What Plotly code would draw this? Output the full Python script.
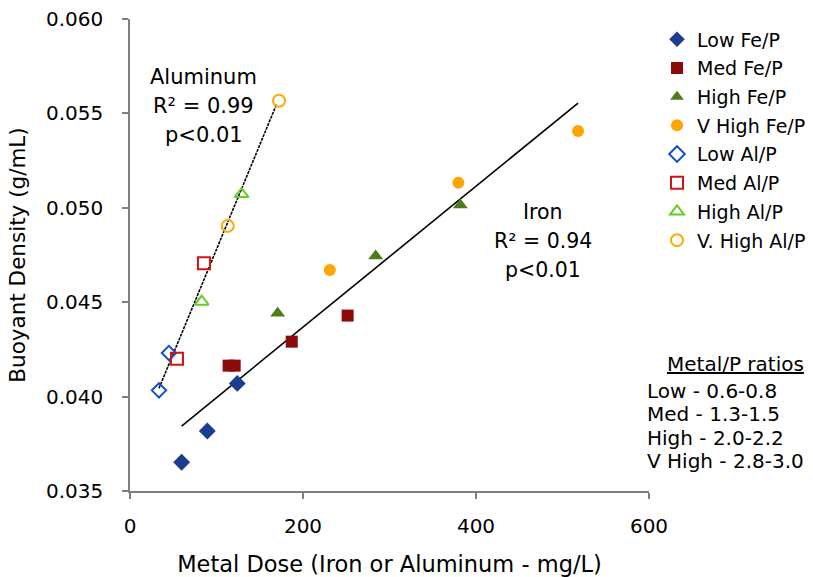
import plotly.graph_objects as go

# ---- data ----
low_fe_x = [59.7, 89.4, 124.0]
low_fe_y = [0.03652, 0.03818, 0.04070]
med_fe_x = [114.0, 121.0, 187.0, 251.6]
med_fe_y = [0.04164, 0.04164, 0.04291, 0.04429]
high_fe_x = [170.7, 284.0, 381.9]
high_fe_y = [0.04441, 0.04745, 0.05015]
vhigh_fe_x = [231.0, 379.6, 518.0]
vhigh_fe_y = [0.04671, 0.05133, 0.05407]

low_al_x = [33.5, 45.0]
low_al_y = [0.04033, 0.04231]
med_al_x = [54.3, 85.5]
med_al_y = [0.04201, 0.04706]
high_al_x = [82.9, 129.0]
high_al_y = [0.04503, 0.05073]
vhigh_al_x = [113.0, 172.3]
vhigh_al_y = [0.04904, 0.05567]

iron_fit_x = [59.7, 518.0]
iron_fit_y = [0.03844, 0.05555]
al_fit_x = [33.5, 169.6]
al_fit_y = [0.04044, 0.05550]

x_ticks = [0, 200, 400, 600]
y_ticks = [0.035, 0.040, 0.045, 0.050, 0.055, 0.060]

FONT = "DejaVu Sans"

series = [
    ("Low Fe/P", low_fe_x, low_fe_y, "diamond", "#1c3c92", 13),
    ("Med Fe/P", med_fe_x, med_fe_y, "square", "#8c0a0a", 12),
    ("High Fe/P", high_fe_x, high_fe_y, "triangle-up", "#4e7d17", 13),
    ("V High Fe/P", vhigh_fe_x, vhigh_fe_y, "circle", "#ffa500", 12),
    ("Low Al/P", low_al_x, low_al_y, "diamond-open", "#1450c8", 11),
    ("Med Al/P", med_al_x, med_al_y, "square-open", "#d01414", 12),
    ("High Al/P", high_al_x, high_al_y, "triangle-up-open", "#66cc22", 12),
    ("V. High Al/P", vhigh_al_x, vhigh_al_y, "circle-open", "#ffaa00", 12),
]

fig = go.Figure()

fig.add_trace(go.Scatter(x=iron_fit_x, y=iron_fit_y, mode="lines",
                         line=dict(color="black", width=1.6), showlegend=False, hoverinfo="skip"))
fig.add_trace(go.Scatter(x=al_fit_x, y=al_fit_y, mode="lines",
                         line=dict(color="black", width=1.6, dash="3px,1px"), showlegend=False, hoverinfo="skip"))

for i, (name, xs, ys, sym, col, sz) in enumerate(series):
    opened = sym.endswith("open")
    fig.add_trace(go.Scatter(
        x=xs, y=ys, mode="markers", name=name, legendgroup=f"g{i}",
        marker=dict(symbol=sym, size=sz, color=col,
                    line=dict(width=2 if opened else 0, color=col)),
    ))

annotations = []
for txt, yv in [("Aluminum", 0.05694), ("R² = 0.99", 0.05539), ("p<0.01", 0.05386)]:
    annotations.append(dict(x=85.5, y=yv, xref="x", yref="y", text=txt, showarrow=False,
                            font=dict(family=FONT, size=21, color="black"),
                            xanchor="center", yanchor="middle"))
for txt, yv in [("Iron", 0.04979), ("R² = 0.94", 0.04826), ("p<0.01", 0.04671)]:
    annotations.append(dict(x=477.5, y=yv, xref="x", yref="y", text=txt, showarrow=False,
                            font=dict(family=FONT, size=20.5, color="black"),
                            xanchor="center", yanchor="middle"))

ratio_font = dict(family=FONT, size=20, color="black")
annotations.append(dict(x=(735 - 130) / 519, y=(491 - 364) / 472, xref="paper", yref="paper",
                        text="<u>Metal/P ratios</u>", showarrow=False, font=ratio_font,
                        xanchor="center", yanchor="middle"))
for txt, py in [("Low - 0.6-0.8", 391), ("Med - 1.3-1.5", 414),
                ("High - 2.0-2.2", 438), ("V High - 2.8-3.0", 461)]:
    annotations.append(dict(x=(645 - 130) / 519, y=(491 - py) / 472, xref="paper", yref="paper",
                            text=txt, showarrow=False, font=ratio_font,
                            xanchor="left", yanchor="middle"))

fig.update_layout(
    width=813, height=577,
    margin=dict(l=130, r=164, t=19, b=86, autoexpand=False),
    paper_bgcolor="white", plot_bgcolor="white",
    font=dict(family=FONT, color="black"),
    showlegend=True,
    legend=dict(x=(657 - 130) / 519, y=0.997, xanchor="left", yanchor="top",
                font=dict(family=FONT, size=19, color="black"),
                tracegroupgap=1, bgcolor="rgba(0,0,0,0)", borderwidth=0,
                itemsizing="constant"),
    annotations=annotations,
    xaxis=dict(range=[0, 600], tickvals=x_ticks, ticks="outside", ticklen=6,
               tickcolor="#7f7f7f", tickwidth=1.5, showline=True, linecolor="#7f7f7f",
               linewidth=1.5, showgrid=False, zeroline=False, automargin=False,
               tickfont=dict(family=FONT, size=20, color="black"), ticklabelstandoff=10,
               title=dict(text="Metal Dose (Iron or Aluminum - mg/L)",
                          font=dict(family=FONT, size=22.5, color="black"), standoff=24)),
    yaxis=dict(range=[0.035, 0.060], tickvals=y_ticks, tickformat=".3f", ticks="outside",
               ticklen=6, tickcolor="#7f7f7f", tickwidth=1.5, showline=True,
               linecolor="#7f7f7f", linewidth=1.5, showgrid=False, zeroline=False,
               automargin=False,
               tickfont=dict(family=FONT, size=20, color="black"), ticklabelstandoff=15,
               title=dict(text="Buoyant Density (g/mL)",
                          font=dict(family=FONT, size=21.5, color="black"), standoff=14)),
)

fig.write_html("out.html")
